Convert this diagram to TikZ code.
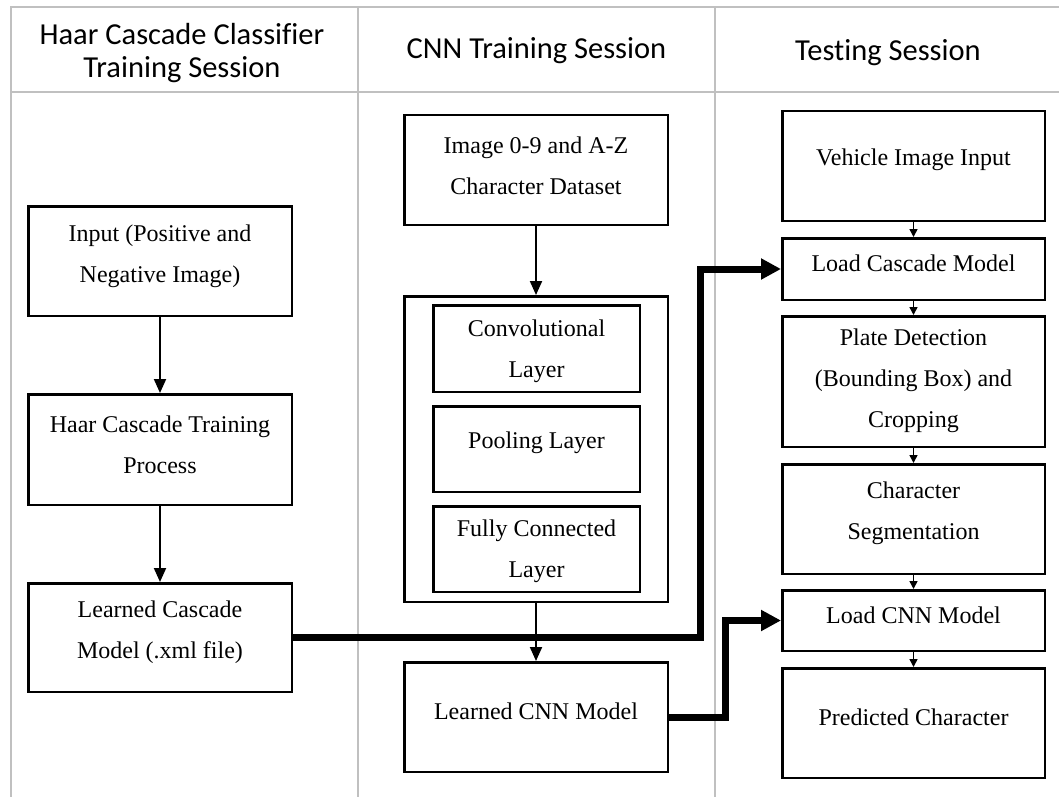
\documentclass[tikz,border=0pt]{standalone}
\usepackage{fontspec}
\setmainfont{Liberation Serif}
\newfontfamily\headfont[Ligatures=CommonOff]{Carlito}
\usetikzlibrary{arrows.meta}
\definecolor{gridgray}{RGB}{192,192,192}
\tikzset{
  box/.style={draw=black, line width=2.5pt, inner sep=0pt, fill=white},
  txt/.style={align=center, inner sep=0pt, font=\fontsize{24}{41}\selectfont},
  headtxt/.style={align=center, inner sep=0pt, font=\headfont\fontsize{30.5}{32.5}\selectfont},
  gridline/.style={draw=gridgray, line width=2pt},
  arr/.style={line width=2pt, -{Triangle[length=14pt,width=12pt]}},
  smallarr/.style={line width=1.5pt, -{Triangle[length=8pt,width=8pt]}},
  bigarr/.style={line width=7pt, -{Triangle[length=20pt,width=20pt]}},
}
\begin{document}
\begin{tikzpicture}[x=1pt, y=-1pt]
\useasboundingbox (0,0) rectangle (1059,797);
% table grid
\draw[gridline] (10,7) -- (1059,7);
\draw[gridline] (10,92) -- (1059,92);
\draw[gridline] (11,7) -- (11,797);
\draw[gridline] (358,7) -- (358,797);
\draw[gridline] (715,7) -- (715,797);
% headers
\node[headtxt] (h1) at (182,53) {Haar Cascade Classifier\\Training Session};
\node[headtxt] (h2) at (536.5,51) {CNN Training Session};
\node[headtxt] (h3) at (888,53) {Testing Session};
% column 1
\node[box, minimum width=263.5, minimum height=109.5] (in) at (160,261) {};
\node[txt] (in-t) at (160,256.5) {Input (Positive and\\Negative Image)};
\node[box, minimum width=263.5, minimum height=110.5] (htp) at (160,449.5) {};
\node[txt] (htp-t) at (160,445) {Haar Cascade Training\\Process};
\node[box, minimum width=263.5, minimum height=108.5] (lcm) at (160,637.5) {};
\node[txt] (lcm-t) at (160,632.5) {Learned Cascade\\Model (.xml file)};
% column 2
\node[box, minimum width=263.5, minimum height=109.5] (img) at (536,170) {};
\node[txt] (img-t) at (536,165.5) {Image 0-9 and A-Z\\Character Dataset};
\node[box, minimum width=263.5, minimum height=305.5] (cnnbox) at (536,449) {};
\node[box, minimum width=206.5, minimum height=86.5] (conv) at (536.5,348.5) {};
\node[txt] (conv-t) at (536.5,351) {Convolutional\\Layer};
\node[box, minimum width=206.5, minimum height=85.5] (pool) at (536.5,449) {};
\node[txt] (pool-t) at (536.5,443) {Pooling Layer};
\node[box, minimum width=206.5, minimum height=85.5] (fc) at (536.5,549) {};
\node[txt] (fc-t) at (536.5,551) {Fully Connected\\Layer};
\node[box, minimum width=263.5, minimum height=109.5] (lcnn) at (536,717) {};
\node[txt] (lcnn-t) at (536,711) {Learned CNN Model};
% column 3
\node[box, minimum width=262.5, minimum height=109.5] (veh) at (913.5,166) {};
\node[txt] (veh-t) at (913.5,160) {Vehicle Image Input};
\node[box, minimum width=262.5, minimum height=61.5] (lcas) at (913.5,269) {};
\node[txt] (lcas-t) at (913.5,263) {Load Cascade Model};
\node[box, minimum width=262.5, minimum height=130.5] (plate) at (913.5,381.5) {};
\node[txt] (plate-t) at (913.5,381) {Plate Detection\\(Bounding Box) and\\Cropping};
\node[box, minimum width=262.5, minimum height=109.5] (seg) at (913.5,519) {};
\node[txt] (seg-t) at (913.5,513.5) {Character\\Segmentation};
\node[box, minimum width=262.5, minimum height=60.5] (lcnnm) at (913.5,620.5) {};
\node[txt] (lcnnm-t) at (913.5,615) {Load CNN Model};
\node[box, minimum width=262.5, minimum height=109.5] (pred) at (913.5,723) {};
\node[txt] (pred-t) at (913.5,717) {Predicted Character};
% connectors
\draw[arr] (in.south) -- (htp.north);
\draw[arr] (htp.south) -- (lcm.north);
\draw[arr] (img.south) -- (cnnbox.north);
\draw[arr] (cnnbox.south) -- (lcnn.north);
\draw[smallarr] (veh.south) -- (lcas.north);
\draw[smallarr] (lcas.south) -- (plate.north);
\draw[smallarr] (plate.south) -- (seg.north);
\draw[smallarr] (seg.south) -- (lcnnm.north);
\draw[smallarr] (lcnnm.south) -- (pred.north);
\coordinate (c1) at (700,0);
\coordinate (c2) at (725,0);
\draw[bigarr] (lcm.east) -| (c1 |- lcas.west) -- (lcas.west);
\draw[bigarr] (lcnn.east) -| (c2 |- lcnnm.west) -- (lcnnm.west);
\end{tikzpicture}
\end{document}
